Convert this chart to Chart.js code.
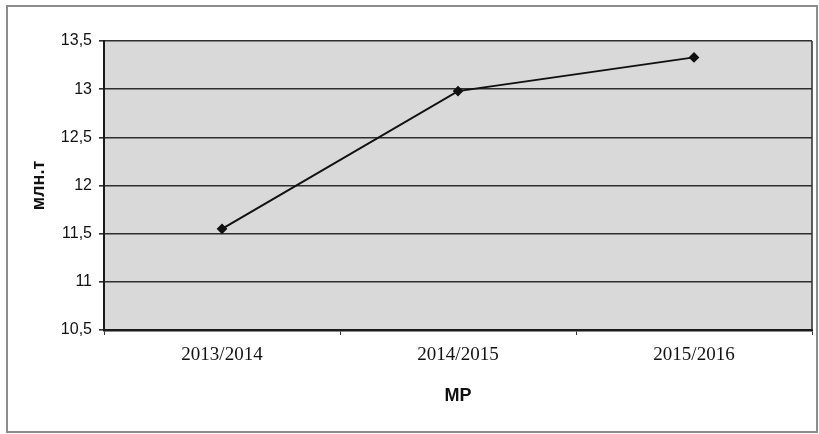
<!DOCTYPE html>
<html>
<head>
<meta charset="utf-8">
<script src="https://cdn.jsdelivr.net/npm/chart.js@4"></script>
<style>
  html, body { margin: 0; padding: 0; background: #ffffff; }
  #wrap { width: 819px; height: 434px; position: relative; }
</style>
</head>
<body>
<div id="wrap"><canvas id="c" width="819" height="434"></canvas></div>
<script>
const categories = ['2013/2014', '2014/2015', '2015/2016'];
const production = [11.55, 12.98, 13.33];
const yTitle = 'млн.т';
const xTitle = 'МР';
const yMin = 10.5, yMax = 13.5, yStep = 0.5;

const framePlugin = {
  id: 'frame',
  beforeDraw(chart) {
    const ctx = chart.ctx;
    const a = chart.chartArea;
    ctx.save();
    ctx.fillStyle = '#ffffff';
    ctx.fillRect(0, 0, chart.width, chart.height);
    ctx.strokeStyle = '#8c8c8c';
    ctx.lineWidth = 2;
    ctx.strokeRect(7, 6, chart.width - 9, chart.height - 8);
    ctx.fillStyle = '#d9d9d9';
    ctx.fillRect(a.left, a.top, a.right - a.left, a.bottom - a.top);
    ctx.restore();
  },
  afterDatasetsDraw(chart) {
    const ctx = chart.ctx;
    const a = chart.chartArea;
    ctx.save();
    ctx.strokeStyle = '#2a2a2a';
    ctx.lineWidth = 1.5;
    ctx.beginPath();
    ctx.moveTo(a.right, a.top);
    ctx.lineTo(a.right, a.bottom);
    ctx.stroke();
    ctx.restore();
  }
};

new Chart(document.getElementById('c'), {
  type: 'line',
  data: {
    labels: categories,
    datasets: [{
      data: production,
      borderColor: '#111111',
      borderWidth: 2,
      pointStyle: 'rectRot',
      pointRadius: 4,
      pointBackgroundColor: '#111111',
      pointBorderColor: '#111111',
      tension: 0,
      clip: false
    }]
  },
  options: {
    responsive: false,
    animation: false,
    devicePixelRatio: 1,
    layout: { padding: { top: 41, right: 7, left: 0, bottom: 0 } },
    plugins: { legend: { display: false }, tooltip: { enabled: false } },
    scales: {
      x: {
        offset: true,
        afterFit(s) { s.height = 104; },
        grid: { offset: true, drawOnChartArea: false, drawTicks: true, tickLength: 5, color: '#333333', lineWidth: 1 },
        border: { color: '#1a1a1a', width: 2.5 },
        ticks: { color: '#111111', padding: 9, font: { family: '"Liberation Serif", "Times New Roman", serif', size: 19 } },
        title: { display: true, text: xTitle, color: '#111111', padding: { top: 0, bottom: 27 }, font: { family: '"Liberation Sans", Arial, sans-serif', size: 18, weight: 'bold' } }
      },
      y: {
        min: yMin, max: yMax,
        afterFit(s) { s.width = 104; },
        grid: { color: '#2e2e2e', lineWidth: 1.6, tickLength: 5, drawTicks: true },
        border: { color: '#1a1a1a', width: 2 },
        ticks: {
          stepSize: yStep, color: '#111111', padding: 7,
          font: { family: '"Liberation Sans", Arial, sans-serif', size: 16 },
          callback: v => String(v).replace('.', ',')
        },
        title: { display: true, text: yTitle, color: '#111111', padding: { top: 28, bottom: 0 }, font: { family: '"Liberation Sans", Arial, sans-serif', size: 18, weight: 'bold' } }
      }
    }
  },
  plugins: [framePlugin]
});
</script>
</body>
</html>
